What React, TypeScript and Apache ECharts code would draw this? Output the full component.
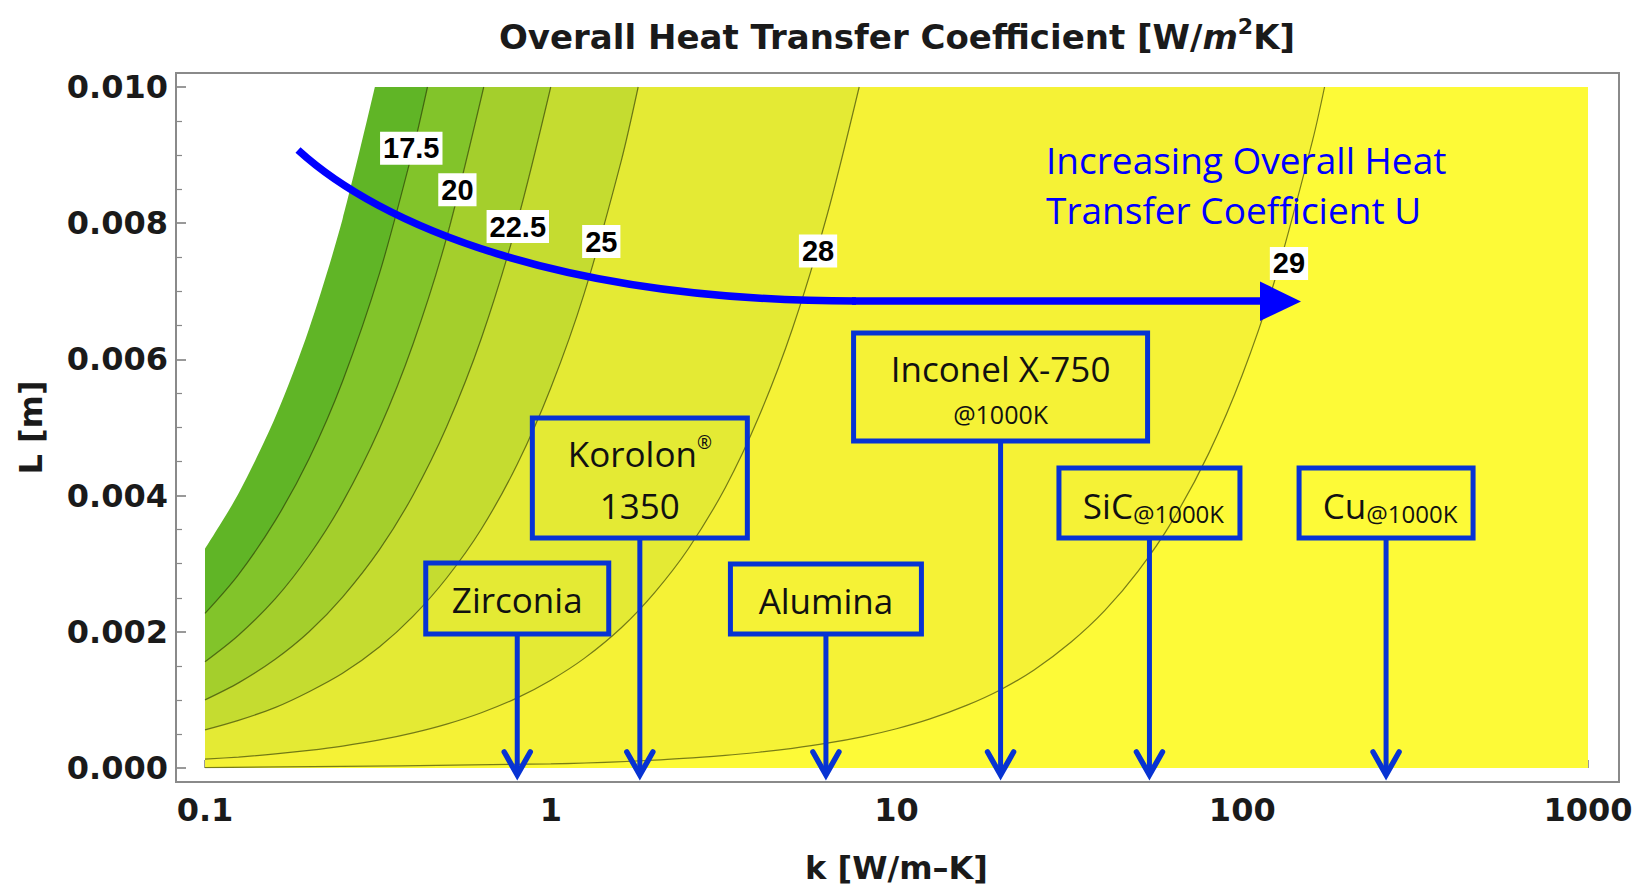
import React, { useEffect, useRef } from "react";
import * as echarts from "echarts";

// ---- data ----
const xTickLabels = ["0.1", "1", "10", "100", "1000"];

// contour lines U(k, L) = level, points [k, L]
const contour15 = [[0.1, 0.00322], [0.125, 0.00403], [0.16, 0.00516], [0.2, 0.00645], [0.25, 0.00806], [0.31, 0.01]];
const contour17_5 = [[0.1, 0.00227], [0.125, 0.00284], [0.16, 0.00364], [0.2, 0.00454], [0.25, 0.00568], [0.32, 0.00727], [0.4, 0.00909], [0.44, 0.01]];
const contour20 = [[0.1, 0.00156], [0.125, 0.00195], [0.16, 0.00249], [0.2, 0.00312], [0.25, 0.0039], [0.32, 0.00499], [0.4, 0.00623], [0.5, 0.00779], [0.64, 0.01]];
const contour22_5 = [[0.1, 0.001], [0.125, 0.00125], [0.16, 0.0016], [0.2, 0.002], [0.25, 0.00251], [0.32, 0.00321], [0.4, 0.00401], [0.5, 0.00501], [0.63, 0.00631], [0.8, 0.00802], [1.0, 0.01]];
const contour25 = [[0.1, 0.00056], [0.125, 0.0007], [0.16, 0.00089], [0.2, 0.00112], [0.25, 0.00139], [0.32, 0.00178], [0.4, 0.00223], [0.5, 0.00279], [0.63, 0.00351], [0.8, 0.00446], [1, 0.00558], [1.25, 0.00697], [1.6, 0.00892], [1.79, 0.01]];
const contour28 = [[0.1, 0.000129], [0.125, 0.000161], [0.16, 0.000206], [0.2, 0.000258], [0.25, 0.000322], [0.32, 0.000412], [0.4, 0.000516], [0.5, 0.000645], [0.63, 0.000812], [0.8, 0.00103], [1, 0.00129], [1.25, 0.00161], [1.6, 0.00206], [2, 0.00258], [2.5, 0.00322], [3.2, 0.00412], [4, 0.00516], [5, 0.00645], [6.3, 0.00812], [7.8, 0.01]];
const contour29 = [[0.1, 0.000006], [1, 0.00006], [2, 0.000115], [3.2, 0.000185], [4, 0.000231], [5, 0.000289], [6.3, 0.000364], [8, 0.000462], [10, 0.000577], [12.5, 0.000721], [16, 0.000923], [20, 0.00115], [25, 0.00144], [32, 0.00185], [40, 0.00231], [50, 0.00289], [63, 0.00364], [80, 0.00462], [100, 0.00577], [125, 0.00721], [160, 0.00923], [173, 0.01]];

const contourLevels = [29, 28, 25, 22.5, 20, 17.5, 15];
const contourData = [contour29, contour28, contour25, contour22_5, contour20, contour17_5, contour15];
// colour of the region where U is below each level
const bandBelowColors = ["#f5f236", "#e4ea34", "#c5dc30", "#a4cf2c", "#82c42a", "#60b526", "#ffffff"];
const topBandColor = "#fdfa37";
const dataRegion = [[0.1, 0], [1000, 0]];

const contourLabels = ["17.5", "20", "22.5", "25", "28", "29"];
const contourLabelK = [0.395, 0.537, 0.803, 1.4, 5.93, 136.5];
const contourLabelL = [0.0091, 0.00849, 0.00795, 0.00773, 0.00759, 0.00741];

const materialNames = ["Zirconia", "Korolon", "Alumina", "Inconel X-750", "SiC", "Cu"];
const materialK = [0.8, 1.81, 6.25, 20.0, 53.9, 260.6];

// ---- layout (pixels) ----
const boxLayout = [
  { w: 183, top: 563, bottom: 634 },
  { w: 215, top: 418, bottom: 538 },
  { w: 191, top: 564, bottom: 634 },
  { w: 294, top: 333, bottom: 441 },
  { w: 181, top: 468, bottom: 538 },
  { w: 174, top: 468, bottom: 538 },
];
const BLUE_BOX = "#0733d3";
const TXT_FONT = "Open Sans";
const AX_FONT = "DejaVu Sans";

export default function App() {
  const ref = useRef<HTMLDivElement>(null);
  useEffect(() => {
    document.body.style.margin = "0";
    const chart = echarts.init(ref.current!, null, { renderer: "svg" });

    const series: any[] = [
      {
        type: "line",
        data: dataRegion,
        showSymbol: false,
        silent: true,
        lineStyle: { width: 0 },
        areaStyle: { color: topBandColor, opacity: 1, origin: "end" },
        z: 1,
      },
    ];
    contourLevels.forEach((lv, i) => {
      series.push({
        type: "line",
        name: String(lv),
        data: contourData[i],
        showSymbol: false,
        silent: true,
        smooth: 0.3,
        lineStyle: { width: lv === 15 ? 0 : 1.2, color: "rgba(35,45,0,0.6)" },
        areaStyle: { color: bandBelowColors[i], opacity: 1, origin: "end" },
        z: 2,
      });
    });
    series.push({
      type: "scatter",
      data: contourLabels.map((t, i) => ({ name: t, value: [contourLabelK[i], contourLabelL[i]] })),
      symbol: "rect",
      symbolSize: 1,
      silent: true,
      itemStyle: { color: "rgba(0,0,0,0)", opacity: 1 },
      label: {
        show: true,
        position: "inside",
        formatter: "{b}",
        color: "#000",
        opacity: 1,
        fontFamily: "Liberation Sans",
        fontWeight: "bold",
        fontSize: 29,
        backgroundColor: "#ffffff",
        padding: [3, 3, 1, 3],
      },
      z: 5,
    });

    const option: any = {
      animation: false,
      backgroundColor: "#ffffff",
      title: {
        text: "Overall Heat Transfer Coefficient [W/{i|m}{s|2}K]",
        left: 892,
        top: 10,
        textAlign: "center",
        textStyle: {
          fontFamily: AX_FONT,
          fontWeight: "bold",
          fontSize: 34,
          lineHeight: 44,
          color: "#1a1a1a",
          rich: {
            i: { fontFamily: AX_FONT, fontWeight: "bold", fontStyle: "italic", fontSize: 34, lineHeight: 44, color: "#1a1a1a" },
            s: { fontFamily: AX_FONT, fontWeight: "bold", fontSize: 22, lineHeight: 2, verticalAlign: "top", color: "#1a1a1a" },
          },
        },
      },
      grid: { left: 205, right: 57, top: 87, bottom: 126, containLabel: false, outerBoundsMode: "none" },
      xAxis: {
        type: "log",
        logBase: 10,
        min: 0.1,
        max: 1000,
        splitNumber: 4,
        offset: 13,
        name: "k [W/m–K]",
        nameLocation: "middle",
        nameGap: 71,
        nameTextStyle: { fontFamily: AX_FONT, fontWeight: "bold", fontSize: 32, color: "#1a1a1a" },
        axisLine: { show: false },
        axisTick: { show: true, inside: true, length: 8, lineStyle: { color: "#777", width: 1.5 } },
        minorTick: { show: false },
        splitLine: { show: false },
        axisLabel: {
          margin: 13,
          fontFamily: AX_FONT,
          fontWeight: "bold",
          fontSize: 32,
          color: "#1a1a1a",
          formatter: (v: number) => xTickLabels[Math.round(Math.log10(v)) + 1] ?? "",
        },
      },
      yAxis: {
        type: "value",
        min: 0,
        max: 0.01,
        interval: 0.002,
        offset: 29,
        name: "L [m]",
        nameLocation: "middle",
        nameGap: 129,
        nameTextStyle: { fontFamily: AX_FONT, fontWeight: "bold", fontSize: 32, color: "#1a1a1a" },
        axisLine: { show: false },
        axisTick: { show: true, inside: true, length: 10, lineStyle: { color: "#777", width: 1.5 } },
        minorTick: { show: true, splitNumber: 4, length: 6, lineStyle: { color: "#888", width: 1.2 } },
        splitLine: { show: false },
        minorSplitLine: { show: false },
        axisLabel: {
          margin: 8,
          fontFamily: AX_FONT,
          fontWeight: "bold",
          fontSize: 32,
          color: "#1a1a1a",
          formatter: (v: number) => v.toFixed(3),
        },
      },
      series,
    };
    chart.setOption(option);

    // ---- annotations ----
    const g: any[] = [];
    // plot frame
    g.push({
      type: "rect",
      shape: { x: 176, y: 73, width: 1443, height: 709 },
      style: { fill: "none", stroke: "#8a8a8a", lineWidth: 2 },
      silent: true,
      z: 10,
    });
    // big curved arrow
    g.push({
      type: "bezierCurve",
      shape: { x1: 298, y1: 150, x2: 856, y2: 301, cpx1: 380, cpy1: 225, cpx2: 560, cpy2: 301 },
      style: { stroke: "#0000ff", lineWidth: 7.5, fill: "none" },
      z: 20,
    });
    g.push({
      type: "line",
      shape: { x1: 852, y1: 301, x2: 1264, y2: 301 },
      style: { stroke: "#0000ff", lineWidth: 7.5 },
      z: 20,
    });
    g.push({
      type: "polygon",
      shape: { points: [[1260, 281.5], [1301, 301.5], [1260, 321]] },
      style: { fill: "#0000ff" },
      z: 20,
    });
    g.push({
      type: "text",
      x: 1046,
      y: 159,
      style: { text: "Increasing Overall Heat", fontFamily: TXT_FONT, fontSize: 37, fill: "#0000ff", align: "left", verticalAlign: "middle" },
      z: 20,
    });
    g.push({
      type: "text",
      x: 1046,
      y: 209,
      style: { text: "Transfer Coefficient U", fontFamily: TXT_FONT, fontSize: 37, fill: "#0000ff", align: "left", verticalAlign: "middle" },
      z: 20,
    });

    // material boxes and arrows
    const tipY = 775;
    materialNames.forEach((nm, i) => {
      const x = chart.convertToPixel({ xAxisIndex: 0 }, materialK[i]) as number;
      const b = boxLayout[i];
      g.push({
        type: "rect",
        shape: { x: x - b.w / 2, y: b.top, width: b.w, height: b.bottom - b.top },
        style: { fill: "none", stroke: BLUE_BOX, lineWidth: 5 },
        z: 20,
      });
      g.push({
        type: "line",
        shape: { x1: x, y1: b.bottom, x2: x, y2: tipY - 2 },
        style: { stroke: BLUE_BOX, lineWidth: 5 },
        z: 20,
      });
      g.push({
        type: "polyline",
        shape: { points: [[x - 13, 752], [x, tipY], [x + 13, 752]] },
        style: { stroke: BLUE_BOX, lineWidth: 5.5, fill: "none", lineJoin: "miter", lineCap: "round" },
        z: 20,
      });
      const cy = (b.top + b.bottom) / 2;
      const base = { fontFamily: TXT_FONT, fill: "#111", align: "center", verticalAlign: "middle" };
      if (nm === "Korolon") {
        g.push({
          type: "text",
          x,
          y: 453,
          style: {
            ...base,
            text: "{k|Korolon}{r|®}",
            rich: {
              k: { fontFamily: TXT_FONT, fontSize: 35, lineHeight: 40, color: "#111" },
              r: { fontFamily: TXT_FONT, fontSize: 18, lineHeight: 22, verticalAlign: "top", color: "#111" },
            },
          },
          z: 21,
        });
        g.push({ type: "text", x, y: 505.5, style: { ...base, text: "1350", fontSize: 35 }, z: 21 });
      } else if (nm === "Inconel X-750") {
        g.push({ type: "text", x, y: 368.5, style: { ...base, text: nm, fontSize: 35 }, z: 21 });
        g.push({ type: "text", x, y: 414, style: { ...base, text: "@1000K", fontSize: 25 }, z: 21 });
      } else if (nm === "SiC" || nm === "Cu") {
        g.push({
          type: "text",
          x: x + 4,
          y: 505,
          style: {
            ...base,
            text: "{m|" + nm + "}{s|@1000K}",
            rich: {
              m: { fontFamily: TXT_FONT, fontSize: 35, lineHeight: 40, color: "#111" },
              s: { fontFamily: TXT_FONT, fontSize: 24, lineHeight: 10, verticalAlign: "bottom", color: "#111" },
            },
          },
          z: 21,
        });
      } else {
        g.push({ type: "text", x, y: cy + 1, style: { ...base, text: nm, fontSize: 35 }, z: 21 });
      }
    });

    chart.setOption({ graphic: g });
    return () => chart.dispose();
  }, []);
  return <div ref={ref} style={{ width: 1645, height: 894 }} />;
}
